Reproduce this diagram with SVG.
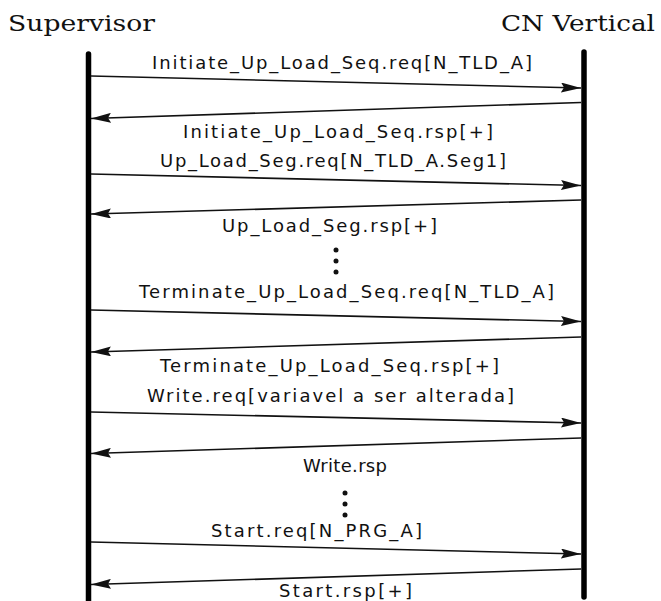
<svg xmlns="http://www.w3.org/2000/svg" width="661" height="601" viewBox="0 0 661 601">
<style>
.hdr{font-family:"DejaVu Serif","Liberation Serif",serif;font-size:22px;fill:#111}
.lbl{font-family:"DejaVu Sans","Liberation Sans",sans-serif;font-size:18px;fill:#111}
.life{stroke:#000;stroke-width:5.5;stroke-linecap:round;fill:none}
.msg{stroke:#111;stroke-width:1.6;fill:none;marker-end:url(#ah)}
.dot{fill:#111}
</style>
<defs>
<marker id="ah" viewBox="0 0 20 10" refX="20" refY="5" markerWidth="20" markerHeight="10" markerUnits="userSpaceOnUse" orient="auto">
<path d="M0,0 L20,5 L0,10 L3,5 z" fill="#111"/>
</marker>
</defs>
<rect width="661" height="601" fill="#fff"/>
<g id="supervisor">
<text class="hdr" x="8" y="31" textLength="147" lengthAdjust="spacingAndGlyphs">Supervisor</text>
<line class="life" x1="88.5" y1="54" x2="88.5" y2="604"/>
</g>
<g id="cn-vertical">
<text class="hdr" x="501" y="31" textLength="154" lengthAdjust="spacingAndGlyphs">CN Vertical</text>
<line class="life" x1="584" y1="52" x2="584" y2="597"/>
</g>
<g id="connectors">
<line class="msg" x1="91" y1="76" x2="581" y2="88"/>
<line class="msg" x1="581" y1="102.5" x2="91" y2="118.5"/>
<line class="msg" x1="91" y1="174" x2="581" y2="185.5"/>
<line class="msg" x1="581" y1="200" x2="91" y2="214"/>
<line class="msg" x1="91" y1="310" x2="581" y2="321.5"/>
<line class="msg" x1="581" y1="337" x2="91" y2="352"/>
<line class="msg" x1="91" y1="412" x2="581" y2="423"/>
<line class="msg" x1="581" y1="438" x2="91" y2="453.5"/>
<line class="msg" x1="91" y1="542" x2="581" y2="554"/>
<line class="msg" x1="581" y1="569" x2="91" y2="584.5"/>
</g>
<g id="labels">
<text class="lbl" x="152" y="69" textLength="380" lengthAdjust="spacing">Initiate_Up_Load_Seq.req[N_TLD_A]</text>
<text class="lbl" x="183" y="137.5" textLength="310" lengthAdjust="spacing">Initiate_Up_Load_Seq.rsp[+]</text>
<text class="lbl" x="160" y="167" textLength="346" lengthAdjust="spacing">Up_Load_Seg.req[N_TLD_A.Seg1]</text>
<text class="lbl" x="222" y="232" textLength="215" lengthAdjust="spacing">Up_Load_Seg.rsp[+]</text>
<text class="lbl" x="139" y="298" textLength="415" lengthAdjust="spacing">Terminate_Up_Load_Seq.req[N_TLD_A]</text>
<text class="lbl" x="160" y="372" textLength="339" lengthAdjust="spacing">Terminate_Up_Load_Seq.rsp[+]</text>
<text class="lbl" x="147" y="402" textLength="367" lengthAdjust="spacing">Write.req[variavel a ser alterada]</text>
<text class="lbl" x="303" y="472" textLength="84" lengthAdjust="spacing">Write.rsp</text>
<text class="lbl" x="211" y="537" textLength="211" lengthAdjust="spacing">Start.req[N_PRG_A]</text>
<text class="lbl" x="279" y="597" textLength="133" lengthAdjust="spacing">Start.rsp[+]</text>
</g>
<g id="ellipsis-1">
<circle class="dot" cx="336" cy="250" r="2.5"/>
<circle class="dot" cx="336" cy="261" r="2.5"/>
<circle class="dot" cx="336" cy="272" r="2.5"/>
</g>
<g id="ellipsis-2">
<circle class="dot" cx="345" cy="493" r="2.5"/>
<circle class="dot" cx="345" cy="504" r="2.5"/>
<circle class="dot" cx="345" cy="515" r="2.5"/>
</g>
</svg>
